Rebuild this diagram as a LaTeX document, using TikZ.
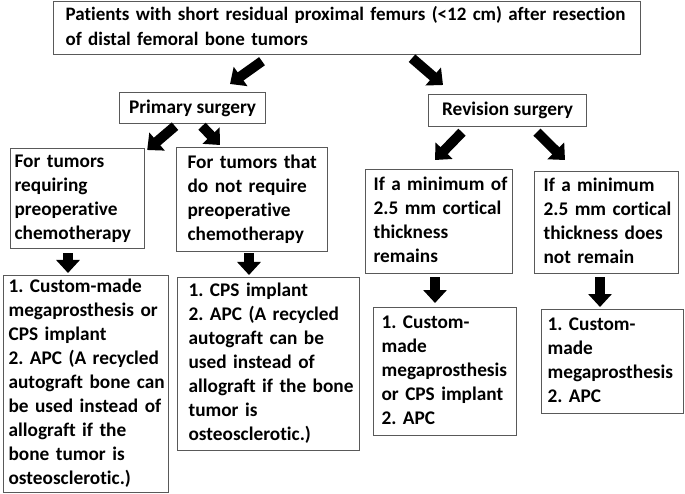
\documentclass[tikz,border=0pt]{standalone}
\usepackage{fontspec}
\setmainfont{Carlito}[Ligatures=NoCommon]
\usetikzlibrary{arrows.meta}

\newcommand\boxlines[1]{\begin{tabular}{@{}l@{}}#1\end{tabular}}

\tikzset{
    box/.style={draw=black!65, line width=1.2pt, anchor=north west, align=left, inner xsep=8pt, inner ysep=0pt, font=\bfseries\fontsize{19.3}{24}\selectfont\frenchspacing},
    title/.style={box, align=center},
    fat/.style={line width=10pt, -{Triangle[width=23pt, length=13pt]}},
}

\begin{document}
\begin{tikzpicture}[x=1pt, y=-1pt]
    \useasboundingbox (0,0) rectangle (685,494);

    \node[box, inner xsep=12pt, text width=563pt, minimum height=53pt, font=\bfseries\fontsize{19}{25}\selectfont](patients) at (53,1) {\boxlines{Patients with short residual proximal femurs (<12 cm) after resection\\ of distal femoral bone tumors}};

    \node[title, minimum width=146pt, minimum height=31pt](primary) at (119,92) {Primary surgery};
    \node[title, minimum width=158pt, minimum height=32pt](revision) at (428,94) {Revision surgery};

    \node[box, inner xsep=4pt, text width=126pt, minimum height=100pt](chemo) at (10,148) {\boxlines{For tumors\\ requiring\\ preoperative\\ chemotherapy}};
    \node[box, inner xsep=11pt, text width=129pt, minimum height=104pt](nochemo) at (176,147) {\boxlines{For tumors that\\ do not require\\ preoperative\\ chemotherapy}};
    \node[box, inner xsep=8pt, text width=131pt, minimum height=104pt](thick) at (365,169) {\boxlines{If a minimum of\\ 2.5 mm cortical\\ thickness\\ remains}};
    \node[box, inner xsep=9pt, text width=126pt, minimum height=102pt](thin) at (534,171) {\boxlines{If a minimum\\ 2.5 mm cortical\\ thickness does\\ not remain}};

    \node[box, inner xsep=5pt, text width=155pt, minimum height=217pt](chemo-tx) at (3,275) {\boxlines{1. Custom-made\\ megaprosthesis or\\ CPS implant\\ 2. APC (A recycled\\ autograft bone can\\ be used instead of\\ allograft if the\\ bone tumor is\\ osteosclerotic.)}};
    \node[box, inner xsep=11pt, text width=160pt, minimum height=173pt](nochemo-tx) at (177,277) {\boxlines{1. CPS implant\\ 2. APC (A recycled\\ autograft can be\\ used instead of\\ allograft if the bone\\ tumor is\\ osteosclerotic.)}};
    \node[box, inner xsep=8pt, text width=127pt, minimum height=128pt](thick-tx) at (373,307) {\boxlines{1. Custom-\\ made\\ megaprosthesis\\ or CPS implant\\ 2. APC}};
    \node[box, inner xsep=6pt, text width=130pt, minimum height=104pt](thin-tx) at (541,309) {\boxlines{1. Custom-\\ made\\ megaprosthesis\\ 2. APC}};

    \draw[fat] ([shift={(209,6)}]patients.south west) -- ([shift={(111,-8)}]primary.north west);
    \draw[fat] ([shift={(359,3)}]patients.south west) -- ([shift={(15,-9)}]revision.north west);
    \draw[fat] ([shift={(56,2)}]primary.south west) -- ([shift={(2,2)}]chemo.north east);
    \draw[fat] ([shift={(83,2)}]primary.south west) -- ([shift={(44,-2)}]nochemo.north west);
    \draw[fat] ([shift={(34,5)}]revision.south west) -- ([shift={(70,-9)}]thick.north west);
    \draw[fat] ([shift={(109,5)}]revision.south west) -- ([shift={(31,-11)}]thin.north west);
    \draw[fat] ([shift={(58,4)}]chemo.south west) -- ([shift={(65,-2)}]chemo-tx.north west);
    \draw[fat] ([shift={(73,1)}]nochemo.south west) -- ([shift={(72,-2)}]nochemo-tx.north west);
    \draw[fat] ([shift={(70,3)}]thick.south west) -- ([shift={(62,-4)}]thick-tx.north west);
    \draw[fat] ([shift={(66,3)}]thin.south west) -- ([shift={(59,-2)}]thin-tx.north west);
\end{tikzpicture}
\end{document}
